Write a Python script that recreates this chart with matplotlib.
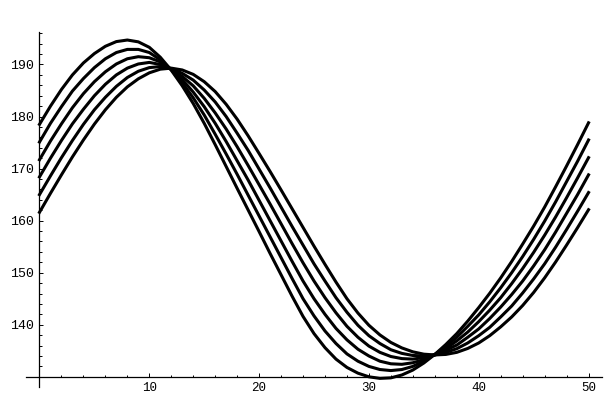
import matplotlib
matplotlib.use('Agg')
import matplotlib.pyplot as plt
from matplotlib.ticker import FixedLocator, MultipleLocator

# 横坐标 0..50
t = list(range(51))

# 六条曲线的 b 值
b1 = [178.5, 182.0, 185.2, 188.0, 190.3, 192.1, 193.5, 194.4, 194.7, 194.35, 193.3, 191.4, 188.9,
      185.9, 182.5, 178.7, 174.6, 170.4, 166.2, 162.05, 157.9, 153.7, 149.6, 145.5, 141.6, 138.3,
      135.6, 133.4, 131.8, 130.7, 130.0, 129.7, 129.8, 130.35, 131.3, 132.65, 134.3, 136.2, 138.3,
      140.7, 143.3, 146.05, 149.0, 152.15, 155.5, 158.95, 162.6, 166.5, 170.5, 174.6, 178.8]
b2 = [175.1, 178.7, 181.9, 184.9, 187.3, 189.4, 191.1, 192.3, 192.9, 192.9, 192.3, 190.9, 189.0,
      186.5, 183.6, 180.3, 176.6, 172.8, 168.9, 164.9, 160.9, 156.9, 152.9, 148.9, 145.0, 141.7,
      138.8, 136.4, 134.4, 133.0, 132.0, 131.4, 131.2, 131.4, 132.0, 133.0, 134.3, 135.8, 137.6,
      139.7, 141.9, 144.4, 147.1, 150.0, 153.1, 156.4, 159.9, 163.6, 167.5, 171.4, 175.5]
b3 = [171.7, 175.3, 178.6, 181.7, 184.4, 186.7, 188.6, 190.1, 191.1, 191.5, 191.3, 190.5, 189.1,
      187.1, 184.7, 181.9, 178.7, 175.2, 171.5, 167.8, 163.9, 160.0, 156.1, 152.2, 148.4, 145.0,
      142.0, 139.3, 137.1, 135.3, 134.0, 133.0, 132.5, 132.4, 132.7, 133.3, 134.3, 135.4, 136.9,
      138.6, 140.6, 142.8, 145.2, 147.9, 150.8, 153.9, 157.2, 160.7, 164.4, 168.2, 172.1]
b4 = [168.4, 172.0, 175.4, 178.6, 181.4, 184.0, 186.2, 188.0, 189.3, 190.1, 190.4, 190.0, 189.1,
      187.7, 185.9, 183.5, 180.7, 177.6, 174.2, 170.6, 166.9, 163.2, 159.4, 155.6, 151.9, 148.4,
      145.2, 142.3, 139.7, 137.6, 135.9, 134.7, 133.9, 133.5, 133.4, 133.7, 134.2, 135.1, 136.1,
      137.6, 139.2, 141.2, 143.4, 145.8, 148.4, 151.3, 154.4, 157.8, 161.4, 165.0, 168.8]
b5 = [165.0, 168.6, 172.1, 175.4, 178.5, 181.3, 183.7, 185.8, 187.5, 188.7, 189.4, 189.6, 189.2,
      188.3, 187.0, 185.1, 182.8, 180.0, 176.8, 173.5, 169.9, 166.3, 162.6, 158.9, 155.3, 151.7,
      148.4, 145.2, 142.4, 139.9, 137.9, 136.4, 135.2, 134.5, 134.1, 134.0, 134.2, 134.7, 135.4,
      136.5, 137.9, 139.5, 141.5, 143.6, 146.1, 148.8, 151.7, 154.9, 158.3, 161.8, 165.4]
b6 = [161.6, 165.25, 168.8, 172.25, 175.5, 178.55, 181.3, 183.7, 185.7, 187.25, 188.4, 189.1, 189.3,
      188.95, 188.1, 186.7, 184.8, 182.35, 179.5, 176.3, 172.9, 169.45, 165.9, 162.3, 158.7, 155.1,
      151.6, 148.2, 145.0, 142.25, 139.9, 138.05, 136.6, 135.55, 134.8, 134.35, 134.2, 134.3, 134.7,
      135.45, 136.5, 137.9, 139.6, 141.5, 143.7, 146.2, 149.0, 152.05, 155.3, 158.65, 162.1]

y_major = [140, 150, 160, 170, 180, 190]
x_major = [10, 20, 30, 40, 50]

plt.rcParams['font.family'] = ['Liberation Mono', 'DejaVu Sans Mono']

fig = plt.figure(figsize=(6.12, 4.0), dpi=100)
ax = fig.add_axes([0.043, 0.03325, 0.9402, 0.8875])

for b in [b1, b2, b3, b4, b5, b6]:
    ax.plot(t, b, color='black', lw=2.2, solid_joinstyle='round', clip_on=False)

ax.set_xlim(-1.2, 51.2)
ax.set_ylim(128.1, 196.3)

# 坐标轴交于 (0, 130)，类似 Mathematica 的样式
ax.spines['left'].set_position(('data', 0))
ax.spines['bottom'].set_position(('data', 130))
ax.spines['top'].set_visible(False)
ax.spines['right'].set_visible(False)
for s in ['left', 'bottom']:
    ax.spines[s].set_linewidth(0.9)

ax.xaxis.set_major_locator(FixedLocator(x_major))
ax.xaxis.set_minor_locator(MultipleLocator(2))
ax.yaxis.set_major_locator(FixedLocator(y_major))
ax.yaxis.set_minor_locator(MultipleLocator(2))
ax.tick_params(which='both', direction='in', width=0.7, labelsize=9.5, pad=4)
ax.tick_params(axis='x', labelsize=9)
ax.tick_params(which='major', length=3.2)
ax.tick_params(which='minor', length=1.8)

ax.text(0, 1.055, 'b', transform=ax.get_yaxis_transform(), ha='center', va='center', fontsize=9.5)

fig.savefig('out.png', dpi=100)
